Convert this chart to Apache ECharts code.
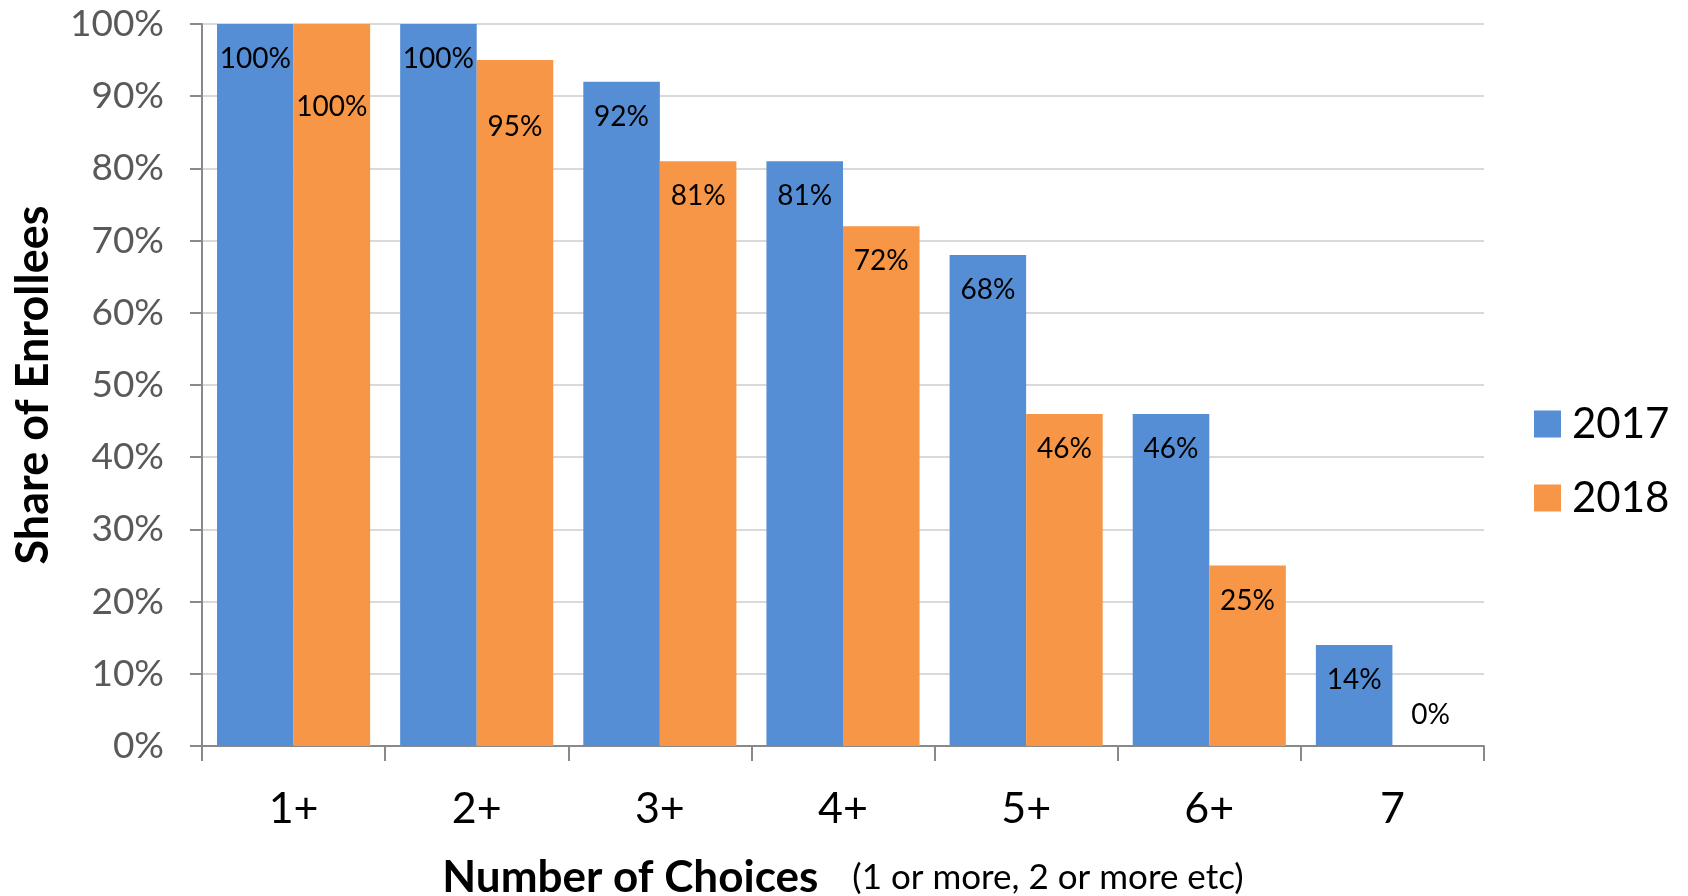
<!DOCTYPE html>
<html>
<head>
<meta charset="utf-8">
<style>
  html, body { margin: 0; padding: 0; background: #ffffff; }
  #chart { width: 1688px; height: 896px; }
</style>
<script src="https://cdn.jsdelivr.net/npm/echarts@6/dist/echarts.min.js"></script>
</head>
<body>
<div id="chart"></div>
<script>
// Share of enrollees with at least N plan choices, by year
const categories = ['1+', '2+', '3+', '4+', '5+', '6+', '7'];
const share2017 = [100, 100, 92, 81, 68, 46, 14];
const share2018 = [100, 95, 81, 72, 46, 25, 0];
const seriesNames = ['2017', '2018'];

const FONT = 'Lato, "Open Sans", sans-serif';
const BLUE = '#558ED5';
const ORANGE = '#F79646';

// a few value labels sit lower inside their bar to stay clear of neighbours
const labelDrop2018 = { '1+': 48, '2+': 32 };

function labelFor(value, cat, drop) {
  if (value === 0) {
    return { position: 'insideBottom', distance: 17 };
  }
  const extra = (drop && drop[cat]) || 0;
  return extra ? { offset: [0, extra] } : undefined;
}

function buildData(values, drop) {
  return values.map((v, i) => {
    const lab = labelFor(v, categories[i], drop);
    return lab ? { value: v, label: lab } : v;
  });
}

const barLabel = {
  show: true,
  position: 'insideTop',
  distance: 21,
  formatter: '{c}%',
  color: '#000000',
  fontFamily: FONT,
  fontSize: 28
};

const chart = echarts.init(document.getElementById('chart'), null, { renderer: 'canvas' });

chart.setOption({
  animation: false,
  backgroundColor: '#ffffff',
  grid: { left: 202, right: 204, top: 24, bottom: 150, outerBoundsMode: 'none', containLabel: false },
  legend: {
    orient: 'vertical',
    left: 1529,
    top: 397,
    icon: 'rect',
    itemWidth: 27,
    itemHeight: 27,
    itemGap: 30,
    textStyle: { fontFamily: FONT, fontSize: 42, color: '#000000', lineHeight: 44, padding: [0, 0, 0, 6] },
    data: seriesNames
  },
  xAxis: {
    type: 'category',
    data: categories,
    axisLine: { lineStyle: { color: '#898989', width: 2 } },
    axisTick: { show: true, length: 15, lineStyle: { color: '#898989', width: 2 } },
    axisLabel: { fontFamily: FONT, fontSize: 43, color: '#000000', margin: 42 },
    name: '{b|Number of Choices}{gap|}{n|(1 or more, 2 or more etc)}',
    nameLocation: 'middle',
    nameGap: 110,
    nameMoveOverlap: false,
    nameTextStyle: {
      rich: {
        b: { fontFamily: FONT, fontWeight: 'bold', fontSize: 44, color: '#000000' },
        gap: { width: 34 },
        n: { fontFamily: FONT, fontSize: 35, color: '#000000' }
      }
    }
  },
  yAxis: {
    type: 'value',
    min: 0,
    max: 100,
    interval: 10,
    axisLine: { show: true, lineStyle: { color: '#898989', width: 2 } },
    axisTick: { show: true, length: 12, lineStyle: { color: '#898989', width: 2 } },
    axisLabel: { formatter: '{value}%', fontFamily: FONT, fontSize: 37, color: '#595959', margin: 38 },
    splitLine: { lineStyle: { color: '#D9D9D9', width: 2 } },
    name: 'Share of Enrollees',
    nameLocation: 'middle',
    nameGap: 146,
    nameMoveOverlap: false,
    nameTextStyle: { fontFamily: FONT, fontWeight: 'bold', fontSize: 45, color: '#000000' }
  },
  series: [
    {
      name: seriesNames[0],
      type: 'bar',
      data: buildData(share2017, null),
      itemStyle: { color: BLUE },
      barGap: '0%',
      barCategoryGap: '16.4%',
      label: barLabel
    },
    {
      name: seriesNames[1],
      type: 'bar',
      data: buildData(share2018, labelDrop2018),
      itemStyle: { color: ORANGE },
      barGap: '0%',
      barCategoryGap: '16.4%',
      label: barLabel
    }
  ]
});
</script>
</body>
</html>
